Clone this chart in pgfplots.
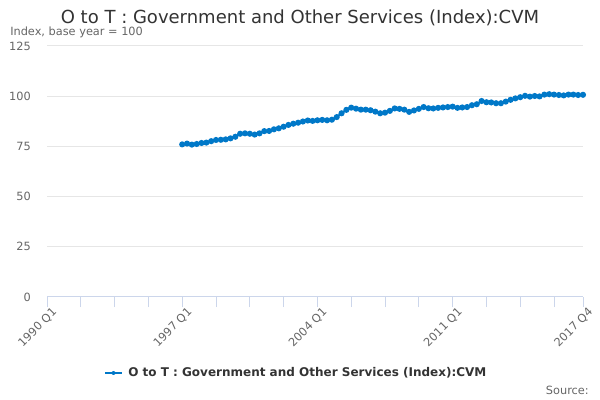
\documentclass[border=0pt]{standalone}
\usepackage{pgfplots}
\pgfplotsset{compat=1.18}
\usepackage{fontspec}
\setmainfont{DejaVu Sans}
\definecolor{line}{RGB}{0,120,200}
\definecolor{grid}{RGB}{230,230,230}
\definecolor{axisc}{RGB}{204,214,235}
\definecolor{lab}{RGB}{102,102,102}
\definecolor{ttl}{RGB}{51,51,51}
\pgfplotstableread{
x y
28 76.0
29 76.4
30 75.9
31 76.2
32 76.7
33 76.9
34 77.6
35 78.2
36 78.3
37 78.5
38 79.0
39 79.8
40 81.3
41 81.5
42 81.3
43 80.9
44 81.5
45 82.6
46 82.7
47 83.5
48 84.0
49 84.8
50 85.7
51 86.3
52 86.8
53 87.4
54 87.9
55 87.7
56 88.0
57 88.2
58 88.0
59 88.3
60 89.6
61 91.5
62 93.2
63 94.3
64 93.8
65 93.3
66 93.3
67 93.0
68 92.3
69 91.5
70 91.8
71 92.7
72 93.9
73 93.7
74 93.3
75 92.2
76 92.9
77 93.7
78 94.6
79 94.0
80 93.9
81 94.2
82 94.4
83 94.6
84 94.8
85 94.2
86 94.4
87 94.6
88 95.5
89 96.0
90 97.6
91 97.0
92 96.9
93 96.5
94 96.5
95 97.3
96 98.2
97 98.9
98 99.5
99 100.2
100 99.8
101 100.1
102 99.9
103 100.8
104 101.0
105 100.8
106 100.6
107 100.4
108 100.8
109 100.8
110 100.6
111 100.7
}\series
\begin{document}
\begin{tikzpicture}
\path[fill=white] (0pt,0pt) rectangle (450pt,300pt);
\begin{axis}[
  at={(35.25pt,77.25pt)}, anchor=south west,
  scale only axis, width=402pt, height=188.25pt,
  xmin=0, xmax=111, ymin=0, ymax=125,
  axis x line*=bottom, axis y line*=left,
  x axis line style={axisc, line width=0.75pt, -},
  y axis line style={draw=none},
  /pgf/number format/assume math mode=true,
  ytick={0,25,50,75,100,125},
  ymajorgrids, xmajorgrids=false,
  y grid style={grid, line width=0.75pt},
  xtick={0,28,56,84,111},
  xticklabels={1990 Q1,1997 Q1,2004 Q1,2011 Q1,2017 Q4},
  minor xtick={7,14,21,35,42,49,63,70,77,91,98,105},
  x tick label style={rotate=45, anchor=north east, font=\fontsize{8.5}{10}\selectfont, text=lab, inner sep=1pt, yshift=-1pt, xshift=3.5pt},
  y tick label style={font=\fontsize{8.5}{10}\selectfont, text=lab, anchor=east, inner sep=0pt, xshift=-4.5pt},
  ytick style={draw=none},
  xtick style={draw=axisc, line width=0.75pt},
  minor x tick style={draw=axisc, line width=0.75pt},
  tick align=outside, major tick length=7.5pt, minor tick length=7.5pt,
  clip=false,
]
\addplot[line, line width=1.5pt, mark=*, mark size=1.5pt, mark options={fill=line, draw=line}] table[x=x,y=y] {\series};
\end{axis}
\node[anchor=base, font=\fontsize{13.5}{16}\selectfont, text=ttl, inner sep=0pt] at (225pt,282pt) {O to T : Government and Other Services (Index):CVM};
\node[anchor=base west, font=\fontsize{8.5}{10}\selectfont, text=lab, inner sep=0pt] at (7.5pt,273pt) {Index, base year = 100};
\draw[line, line width=1.5pt] (78.75pt,20.25pt) -- (91.5pt,20.25pt);
\fill[line] (85.125pt,20.25pt) circle (1.5pt);
\node[anchor=west, font=\bfseries\fontsize{9}{11}\selectfont, text=ttl, inner sep=0pt] at (96pt,20.25pt) {O to T : Government and Other Services (Index):CVM};
\node[anchor=base east, font=\fontsize{8.5}{10}\selectfont, text=lab, inner sep=0pt] at (441.75pt,4.5pt) {Source:};
\end{tikzpicture}
\end{document}
